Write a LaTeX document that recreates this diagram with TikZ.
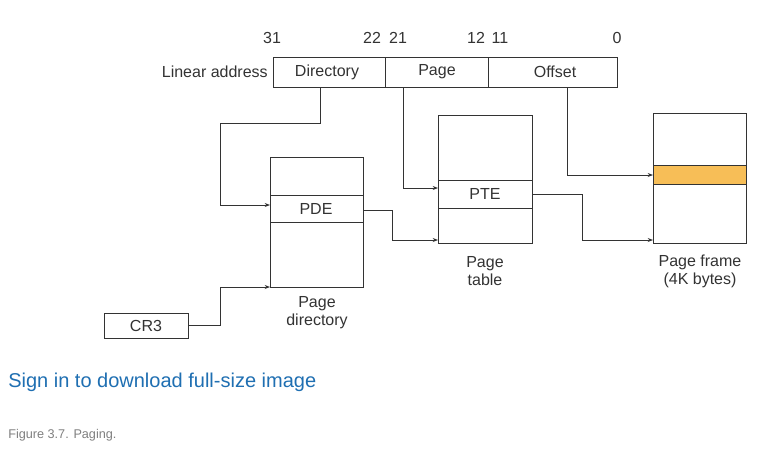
\documentclass[tikz,border=0pt]{standalone}
\usepackage{fontspec}
\setmainfont{Liberation Sans}
\usetikzlibrary{arrows.meta}
\definecolor{ln}{HTML}{333333}
\definecolor{org}{HTML}{F7BE57}
\definecolor{lnk}{HTML}{1F6FB2}
\begin{document}
\begin{tikzpicture}[x=0.75pt,y=-0.75pt,
  box/.style={draw=ln,line width=0.6pt},
  con/.style={draw=ln,line width=0.6pt,-{Stealth[length=4pt,width=3pt]}},
  lbl/.style={font=\fontsize{12}{13.5}\selectfont,text=ln,align=center,inner sep=0pt},
  every node/.style={inner sep=0pt}]
\useasboundingbox[fill=white] (0,0) rectangle (767,462);
% address bar
\draw[box] (273,57) rectangle (617,87);
\draw[box] (385,57) -- (385,87) (488,57) -- (488,87);
\node[lbl] (dir) at (327,72) {Directory};
\node[lbl] (pg) at (437,72) {Page};
\node[lbl] (off) at (555,72) {Offset};
\node[lbl,anchor=east] (la) at (268,72) {Linear address};
\node[lbl] (b31) at (272,38) {31};
\node[lbl] (b22) at (372,38) {22};
\node[lbl] (b21) at (398,38) {21};
\node[lbl] (b12) at (476,38) {12};
\node[lbl] (b11) at (500,38) {11};
\node[lbl] (b0) at (617,38) {0};
% page directory
\draw[box] (270,157) rectangle (363,287);
\draw[box] (270,195) -- (363,195) (270,222) -- (363,222);
\node[lbl] (pde) at (316,209) {PDE};
\node[lbl] (pdl) at (317,313) {Page\\directory};
% page table
\draw[box] (438,115) rectangle (532,243);
\draw[box] (438,180) -- (532,180) (438,208) -- (532,208);
\node[lbl] (pte) at (485,194) {PTE};
\node[lbl] (ptl) at (485,271) {Page\\table};
% page frame
\draw[box] (653,113) rectangle (746,243);
\draw[box,fill=org] (653,165) rectangle (746,184);
\node[lbl] (pfl) at (700,271) {Page frame\\(4K bytes)};
% CR3
\draw[box] (104,313) rectangle (188,338);
\node[lbl] (cr3) at (146,325.5) {CR3};
% connectors
\draw[con] (320,87) -- (320,123) -- (220,123) -- (220,205) -- (270,205);
\draw[con] (403,87) -- (403,188) -- (438,188);
\draw[con] (567,87) -- (567,175) -- (653,175);
\draw[con] (363,210) -- (392,210) -- (392,240) -- (438,240);
\draw[con] (532,194) -- (582,194) -- (582,240) -- (653,240);
\draw[con] (188,325) -- (220,325) -- (220,287) -- (270,287);
% captions
\node[anchor=west,text=lnk,font=\fontsize{15}{18}\selectfont] (sign) at (8,382) {Sign in to download full-size image};
\node[anchor=west,text=gray,font=\fontsize{9.5}{11}\selectfont] (fig) at (8,435) {Figure 3.7. Paging.};
\end{tikzpicture}
\end{document}
